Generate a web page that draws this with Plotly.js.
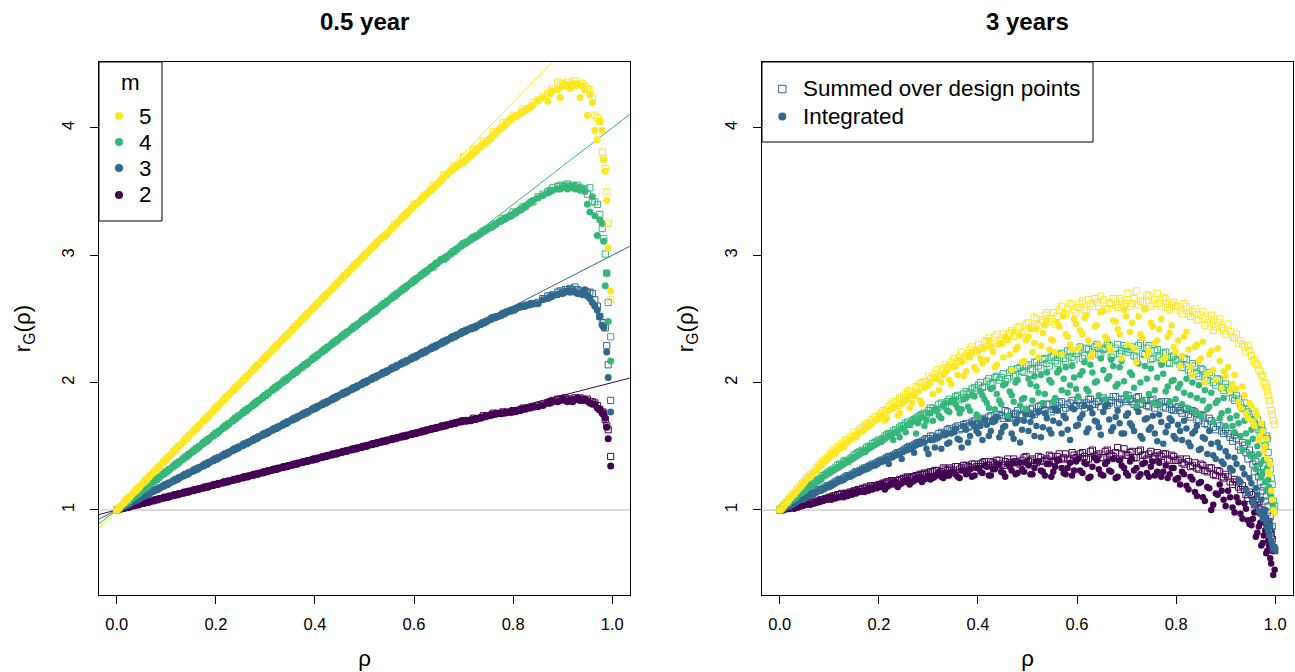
<!DOCTYPE html>
<html><head><meta charset="utf-8">
<script src="https://cdn.plot.ly/plotly-3.0.1.min.js"></script>
<style>html,body{margin:0;padding:0;background:#fff}#chart{width:1295px;height:672px}</style>
</head><body><div id="chart"></div>
<script>
// ---------- labels and colours ----------
const panelTitles = ["0.5 year", "3 years"];
const xTickVals = [0, 0.2, 0.4, 0.6, 0.8, 1.0];
const xTickText = ["0.0", "0.2", "0.4", "0.6", "0.8", "1.0"];
const yTickVals = [1, 2, 3, 4];
const yTickText = ["1", "2", "3", "4"];
const mLabels = ["2", "3", "4", "5"];
const colours = ["#440154", "#31688E", "#35B779", "#FDE725"];
const legendLabels = ["Summed over design points", "Integrated"];

// ---------- reference lines ----------
const lineX = [-0.036, 1.036];
const ref2 = [0.964, 2.036];
const ref3 = [0.928, 3.072];
const ref4 = [0.892, 4.108];
const ref5 = [0.856, 5.144];
const unityY = [1, 1];

// ---------- left panel: 0.5 year ----------
const xL = [0,.01,.02,.03,.04,.05,.06,.07,.08,.09,.10,.11,.12,.13,.14,.15,.16,.17,.18,.19,.20,.21,.22,.23,.24,.25,.26,.27,.28,.29,.30,.31,.32,.33,.34,.35,.36,.37,.38,.39,.40,.41,.42,.43,.44,.45,.46,.47,.48,.49,.50,.51,.52,.53,.54,.55,.56,.57,.58,.59,.60,.61,.62,.63,.64,.65,.66,.67,.68,.69,.70,.71,.72,.73,.74,.75,.76,.77,.78,.79,.80,.81,.82,.83,.84,
 .85,.86,.87,.875,.88,.89,.895,.90,.905,.91,.915,.92,.925,.93,.935,.94,.945,.95,.955,.96,.965,.97,.975,.98,.983,.986,.989,.992,.997];
const L2 = [1.00,1.01,1.02,1.03,1.04,1.05,1.06,1.07,1.08,1.09,1.10,1.11,1.12,1.13,1.14,1.15,1.16,1.17,1.18,1.19,1.20,1.21,1.22,1.23,1.24,1.25,1.26,1.27,1.28,1.29,1.30,1.31,1.32,1.33,1.34,1.35,1.36,1.37,1.38,1.39,1.40,1.41,1.42,1.43,1.44,1.45,1.46,1.47,1.48,1.49,1.50,1.51,1.52,1.53,1.54,1.55,1.56,1.57,1.58,1.59,1.60,1.61,1.62,1.63,1.64,1.65,1.66,1.67,1.68,1.69,1.70,1.70,1.71,1.72,1.73,1.74,1.75,1.76,1.76,1.77,1.77,1.78,1.79,1.80,1.81,
 1.81,1.82,1.84,1.84,1.85,1.85,1.86,1.87,1.86,1.85,1.86,1.85,1.87,1.88,1.86,1.87,1.87,1.86,1.84,1.83,1.83,1.80,1.79,1.76,1.75,1.72,1.65,1.56,1.345];
const L3 = [1.00,1.02,1.04,1.06,1.08,1.10,1.12,1.14,1.16,1.18,1.20,1.22,1.24,1.26,1.28,1.30,1.32,1.34,1.36,1.38,1.40,1.42,1.44,1.46,1.48,1.50,1.52,1.54,1.56,1.58,1.60,1.62,1.64,1.66,1.68,1.70,1.72,1.74,1.76,1.78,1.80,1.82,1.84,1.86,1.88,1.90,1.92,1.94,1.96,1.98,2.00,2.02,2.04,2.06,2.08,2.10,2.12,2.14,2.16,2.18,2.20,2.22,2.24,2.26,2.28,2.30,2.32,2.34,2.36,2.38,2.40,2.42,2.43,2.45,2.47,2.49,2.51,2.52,2.54,2.56,2.57,2.59,2.60,2.61,2.62,
 2.62,2.65,2.66,2.67,2.68,2.69,2.70,2.70,2.71,2.72,2.71,2.72,2.71,2.70,2.70,2.69,2.73,2.68,2.66,2.63,2.60,2.57,2.52,2.45,2.43,null,2.24,2.04,1.77];
const L4 = [1.00,1.03,1.06,1.09,1.12,1.15,1.18,1.21,1.24,1.27,1.30,1.33,1.36,1.39,1.42,1.45,1.48,1.51,1.54,1.57,1.60,1.63,1.66,1.69,1.72,1.75,1.78,1.81,1.84,1.87,1.90,1.93,1.96,1.99,2.02,2.05,2.08,2.11,2.14,2.17,2.20,2.23,2.26,2.29,2.32,2.35,2.38,2.41,2.44,2.47,2.50,2.53,2.56,2.59,2.62,2.65,2.68,2.71,2.74,2.77,2.80,2.83,2.86,2.89,2.92,2.95,2.97,3.00,3.03,3.06,3.09,3.11,3.14,3.16,3.19,3.21,3.23,3.26,3.28,3.30,3.32,3.35,3.37,3.40,3.43,
 3.45,3.47,3.49,3.50,3.51,3.52,3.52,3.53,3.54,3.52,3.53,3.54,3.52,3.53,3.51,3.52,3.50,3.40,3.34,3.46,3.31,3.155,3.28,3.25,3.11,2.76,2.86,2.48,2.17];
const L5 = [1.00,1.04,1.08,1.12,1.16,1.20,1.24,1.28,1.32,1.36,1.40,1.44,1.48,1.52,1.56,1.60,1.64,1.68,1.72,1.76,1.80,1.84,1.88,1.92,1.96,2.00,2.04,2.08,2.12,2.16,2.20,2.24,2.28,2.32,2.36,2.40,2.44,2.48,2.52,2.56,2.60,2.64,2.68,2.72,2.76,2.80,2.84,2.88,2.92,2.96,3.00,3.04,3.08,3.12,3.15,3.19,3.23,3.27,3.31,3.35,3.39,3.42,3.46,3.50,3.53,3.57,3.61,3.65,3.68,3.71,3.73,3.77,3.80,3.84,3.87,3.90,3.94,3.98,4.01,4.05,4.08,4.10,4.13,4.15,4.18,
 4.21,4.24,4.21,4.27,4.29,4.30,4.24,4.33,4.33,4.34,4.31,4.34,4.33,4.34,4.24,4.33,4.30,4.10,4.26,4.20,3.98,3.91,4.05,3.98,3.75,3.66,3.43,3.06,2.72];

const xLb = [.005,.015,.025,.035,.045,.055,.065,.075,.085,.095,.105,.115,.125,.135,.145,.155,.165,.175,.185,.195,.205,.215,.225,.235,.245,.255,.265,.275,.285,.295,.305,.315,.325,.335,.345,.355,.365,.375,.385,.395,.405,.415,.425,.435,.445,.455,.465,.475,.485,.495,.505,.515,.525,.535,.545,.555,.565,.575,.585,.595,.605,.615,.625,.635,.645,.655,.665,.675,.685,.695,.705,.715,.725,.735,.745,.755,.765,.775,.785,.795,.805,.815,.825,.835];
const L2b = [1.005,1.015,1.025,1.035,1.045,1.055,1.065,1.075,1.085,1.095,1.105,1.115,1.125,1.135,1.145,1.155,1.165,1.175,1.185,1.195,1.205,1.215,1.225,1.235,1.245,1.255,1.265,1.275,1.285,1.295,1.305,1.315,1.325,1.335,1.345,1.355,1.365,1.375,1.385,1.395,1.405,1.415,1.425,1.435,1.445,1.455,1.465,1.475,1.485,1.495,1.505,1.515,1.525,1.535,1.545,1.555,1.565,1.575,1.585,1.595,1.605,1.615,1.625,1.635,1.645,1.655,1.665,1.675,1.685,1.695,1.70,1.705,1.715,1.725,1.735,1.745,1.755,1.76,1.765,1.77,1.775,1.785,1.795,1.805];
const L3b = [1.01,1.03,1.05,1.07,1.09,1.11,1.13,1.15,1.17,1.19,1.21,1.23,1.25,1.27,1.29,1.31,1.33,1.35,1.37,1.39,1.41,1.43,1.45,1.47,1.49,1.51,1.53,1.55,1.57,1.59,1.61,1.63,1.65,1.67,1.69,1.71,1.73,1.75,1.77,1.79,1.81,1.83,1.85,1.87,1.89,1.91,1.93,1.95,1.97,1.99,2.01,2.03,2.05,2.07,2.09,2.11,2.13,2.15,2.17,2.19,2.21,2.23,2.25,2.27,2.29,2.31,2.33,2.35,2.37,2.39,2.41,2.425,2.44,2.46,2.48,2.50,2.515,2.53,2.55,2.565,2.58,2.595,2.605,2.615];
const L4b = [1.015,1.045,1.075,1.105,1.135,1.165,1.195,1.225,1.255,1.285,1.315,1.345,1.375,1.405,1.435,1.465,1.495,1.525,1.555,1.585,1.615,1.645,1.675,1.705,1.735,1.765,1.795,1.825,1.855,1.885,1.915,1.945,1.975,2.005,2.035,2.065,2.095,2.125,2.155,2.185,2.215,2.245,2.275,2.305,2.335,2.365,2.395,2.425,2.455,2.485,2.515,2.545,2.575,2.605,2.635,2.665,2.695,2.725,2.755,2.785,2.815,2.845,2.875,2.905,2.935,2.965,2.985,3.015,3.045,3.075,3.10,3.125,3.15,3.175,3.20,3.22,3.245,3.27,3.29,3.31,3.335,3.36,3.385,3.415];
const L5b = [1.02,1.06,1.10,1.14,1.18,1.22,1.26,1.30,1.34,1.38,1.42,1.46,1.50,1.54,1.58,1.62,1.66,1.70,1.74,1.78,1.82,1.86,1.90,1.94,1.98,2.02,2.06,2.10,2.14,2.18,2.22,2.26,2.30,2.34,2.38,2.42,2.46,2.50,2.54,2.58,2.62,2.66,2.70,2.74,2.78,2.82,2.86,2.90,2.94,2.98,3.02,3.06,3.10,3.135,3.17,3.21,3.25,3.29,3.33,3.37,3.405,3.44,3.48,3.515,3.55,3.59,3.63,3.665,3.695,3.72,3.75,3.785,3.82,3.855,3.885,3.92,3.96,3.995,4.03,4.065,4.09,4.115,4.14,4.165];

const xLs = [0,.02,.04,.06,.08,.10,.12,.14,.16,.18,.20,.22,.24,.26,.28,.30,.32,.34,.36,.38,.40,.42,.44,.46,.48,.50,.52,.54,.56,.58,.60,.62,.64,.66,.68,.70,.72,.74,.76,.78,.80,.82,.84,
 .85,.86,.87,.875,.88,.89,.895,.90,.905,.91,.915,.92,.925,.93,.935,.94,.945,.95,.955,.96,.965,.97,.975,.98,.983,.986,.989,.992,.997];
const Ls2 = [1.00,1.02,1.04,1.06,1.08,1.10,1.12,1.14,1.16,1.18,1.20,1.22,1.24,1.26,1.28,1.30,1.32,1.34,1.36,1.38,1.40,1.42,1.44,1.46,1.48,1.50,1.52,1.54,1.56,1.58,1.60,1.62,1.64,1.66,1.68,1.70,1.72,1.74,1.76,1.77,1.78,1.80,1.81,
 1.82,1.83,1.84,1.85,1.86,1.87,1.87,1.87,1.88,1.87,1.87,1.86,1.88,1.87,1.88,1.87,1.86,1.87,1.85,1.85,1.84,1.82,1.79,1.77,1.76,1.71,1.66,1.63,1.42];
const Ls3 = [1.00,1.04,1.08,1.12,1.16,1.20,1.24,1.28,1.32,1.36,1.40,1.44,1.48,1.52,1.56,1.60,1.64,1.68,1.72,1.76,1.80,1.84,1.88,1.92,1.96,2.00,2.04,2.08,2.12,2.16,2.20,2.24,2.28,2.32,2.36,2.40,2.43,2.47,2.51,2.54,2.57,2.60,2.62,
 2.63,2.66,2.68,2.68,2.69,2.71,2.72,2.71,2.73,2.73,2.74,2.73,2.75,2.73,2.72,2.71,2.72,2.71,2.71,2.70,2.65,2.60,2.52,2.47,2.47,2.43,2.29,2.14,1.86];
const Ls4 = [1.00,1.06,1.12,1.18,1.24,1.30,1.36,1.42,1.48,1.54,1.60,1.66,1.72,1.78,1.84,1.90,1.96,2.02,2.08,2.14,2.20,2.26,2.32,2.38,2.44,2.50,2.56,2.62,2.68,2.74,2.80,2.86,2.91,2.97,3.03,3.09,3.14,3.19,3.24,3.29,3.34,3.38,3.42,
 3.46,3.48,3.50,3.51,3.53,3.54,3.55,3.54,3.55,3.56,3.54,3.55,3.54,3.55,3.53,3.52,3.52,3.48,3.53,3.42,3.42,3.40,3.32,3.21,3.13,3.01,2.86,2.63,2.36];
const Ls5 = [1.00,1.08,1.16,1.24,1.32,1.40,1.48,1.56,1.64,1.72,1.80,1.88,1.96,2.04,2.12,2.20,2.28,2.36,2.44,2.52,2.60,2.68,2.76,2.84,2.92,3.00,3.08,3.15,3.24,3.31,3.40,3.47,3.55,3.63,3.70,3.77,3.83,3.90,3.97,4.04,4.10,4.15,4.20,
 4.22,4.25,4.27,4.29,4.31,4.36,4.33,4.35,4.34,4.36,4.34,4.35,4.37,4.34,4.35,4.35,4.33,4.31,4.30,4.24,4.10,4.08,4.05,3.81,3.76,3.68,3.50,3.25,2.65];

// ---------- right panel: 3 years ----------
const xR = [0,.008,.017,.025,.033,.042,.05,.058,.066,.075,.083,.092,
 .1,.108,.117,.125,.133,.142,.15,.158,.167,.175,.183,.192,
 .2,.208,.216,.225,.234,.242,.25,.258,.267,.275,.283,.292,
 .3,.309,.317,.326,.334,.342,.351,.359,.367,.376,.384,.393,
 .401,.409,.418,.426,.434,.443,.451,.46,.468,.476,.485,.493,
 .502,.51,.518,.527,.535,.544,.552,.56,.569,.577,.586,.594,
 .602,.611,.619,.627,.636,.644,.653,.661,.669,.678,.686,.695,
 .703,.711,.72,.728,.737,.745,.753,.762,.77,.779,.787,.795,
 .804,.812,.821,.829,.838,.846,.854,.863,.871,.88,.888,.896,
 .905,.914,.922,.93,.938,.945,.952,.958,.964,.97,.975,.98,.984,.988,.992,.996];
const S5 = [1.00,1.04,1.08,1.12,1.15,1.19,1.23,1.26,1.29,1.33,1.36,1.40,
 1.43,1.47,1.49,1.52,1.55,1.57,1.61,1.62,1.65,1.68,1.69,1.73,
 1.74,1.78,1.79,1.83,1.84,1.88,1.89,1.93,1.92,1.97,1.99,2.01,
 2.05,2.04,2.10,2.09,2.14,2.13,2.19,2.17,2.24,2.21,2.26,2.25,
 2.30,2.27,2.33,2.30,2.36,2.33,2.38,2.34,2.41,2.37,2.44,2.40,
 2.47,2.44,2.50,2.47,2.53,2.48,2.55,2.52,2.60,2.54,2.62,2.57,
 2.59,2.64,2.56,2.62,2.66,2.60,2.65,2.58,2.63,2.61,2.66,2.60,
 2.70,2.62,2.72,2.64,2.58,2.68,2.62,2.70,2.60,2.66,2.57,2.63,
 2.60,2.54,2.60,2.52,2.58,2.50,2.56,2.47,2.53,2.44,2.50,2.41,
 2.46,2.36,2.38,2.33,2.28,2.29,2.21,2.18,2.14,2.09,2.05,1.99,1.93,1.86,1.78,1.70];
const I5 = [1.00,1.03,1.07,1.11,1.14,1.18,1.22,1.25,1.28,1.31,1.35,1.38,
 1.41,1.45,1.47,1.50,1.52,1.55,1.58,1.60,1.62,1.65,1.67,1.70,
 1.72,1.75,1.72,1.79,1.81,1.76,1.85,1.88,1.84,1.92,1.86,1.96,
 1.99,1.91,2.03,2.00,2.08,2.02,2.12,2.06,2.16,2.09,2.20,2.12,
 2.25,2.15,2.18,2.28,2.12,2.30,2.20,2.34,2.10,2.26,2.37,2.17,
 2.36,2.24,2.42,2.29,2.45,2.26,2.33,2.47,2.22,2.38,2.30,2.50,
 2.27,2.38,2.53,2.20,2.44,2.30,2.56,2.34,2.25,2.48,2.38,2.57,
 2.30,2.47,2.16,2.38,2.58,2.25,2.44,2.33,2.50,2.20,2.39,2.28,
 2.33,2.21,2.40,2.12,2.28,2.17,2.32,2.07,2.25,2.02,2.17,2.09,
 2.12,1.99,1.95,1.80,1.90,1.72,1.82,1.66,1.74,1.58,1.62,1.50,1.40,1.28,1.15,1.00];
const S4 = [1.00,1.03,1.06,1.09,1.11,1.14,1.16,1.19,1.21,1.23,1.25,1.28,
 1.30,1.32,1.35,1.36,1.39,1.40,1.43,1.45,1.47,1.49,1.50,1.53,
 1.55,1.56,1.59,1.60,1.63,1.65,1.66,1.69,1.70,1.72,1.74,1.76,
 1.78,1.80,1.79,1.84,1.82,1.87,1.86,1.90,1.88,1.93,1.92,1.96,
 1.98,1.96,2.01,1.99,2.04,2.02,2.07,2.03,2.10,2.06,2.12,2.08,
 2.14,2.10,2.16,2.11,2.19,2.13,2.21,2.15,2.23,2.17,2.24,2.18,
 2.25,2.19,2.27,2.21,2.28,2.22,2.26,2.30,2.20,2.27,2.23,2.29,
 2.24,2.28,2.20,2.31,2.22,2.29,2.19,2.26,2.17,2.24,2.15,2.21,
 2.17,2.12,2.18,2.08,2.13,2.05,2.10,2.02,2.06,1.98,2.02,1.94,
 1.96,1.88,1.90,1.83,1.84,1.77,1.75,1.68,1.71,1.60,1.62,1.50,1.56,1.38,1.25,1.07];
const I4 = [1.00,1.02,1.05,1.08,1.10,1.13,1.15,1.18,1.20,1.22,1.24,1.27,
 1.29,1.31,1.33,1.35,1.37,1.39,1.41,1.43,1.45,1.47,1.49,1.51,
 1.53,1.55,1.57,1.59,1.61,1.57,1.64,1.67,1.69,1.60,1.72,1.66,
 1.76,1.70,1.79,1.72,1.84,1.77,1.86,1.80,1.79,1.88,1.78,1.89,
 1.73,1.90,1.84,1.95,1.79,1.86,1.98,1.74,1.90,2.00,1.82,1.88,
 2.03,1.86,1.97,2.06,1.91,2.02,1.85,2.08,1.94,2.12,1.98,2.04,
 1.89,2.09,1.95,2.14,2.00,1.90,2.10,2.03,2.18,1.97,2.12,2.01,
 1.88,2.06,1.82,2.00,2.13,1.91,1.84,2.04,2.14,1.93,1.85,2.02,
 1.96,1.83,2.03,1.90,1.77,1.98,1.86,1.79,1.92,1.84,1.72,1.88,
 1.78,1.66,1.74,1.58,1.70,1.53,1.63,1.42,1.50,1.36,1.30,1.22,1.33,1.18,1.10,1.02];
const S3 = [1.00,1.02,1.03,1.05,1.07,1.09,1.10,1.12,1.13,1.15,1.16,1.18,
 1.19,1.21,1.23,1.24,1.26,1.27,1.29,1.30,1.32,1.33,1.35,1.36,
 1.38,1.39,1.41,1.42,1.44,1.45,1.47,1.49,1.50,1.52,1.53,1.55,
 1.56,1.58,1.57,1.61,1.60,1.64,1.62,1.66,1.64,1.68,1.66,1.70,
 1.68,1.72,1.69,1.74,1.71,1.75,1.72,1.77,1.73,1.76,1.75,1.79,
 1.76,1.80,1.77,1.82,1.78,1.83,1.79,1.82,1.85,1.80,1.84,1.81,
 1.86,1.82,1.84,1.87,1.83,1.85,1.88,1.82,1.86,1.89,1.84,1.87,
 1.90,1.85,1.88,1.83,1.86,1.81,1.87,1.83,1.85,1.80,1.83,1.78,
 1.81,1.76,1.79,1.73,1.77,1.70,1.74,1.67,1.70,1.63,1.66,1.60,
 1.60,1.54,1.56,1.47,1.51,1.40,1.43,1.30,1.34,1.22,1.15,1.07,.98,.91,.83,.70];
const I3 = [1.00,1.01,1.03,1.04,1.06,1.08,1.09,1.11,1.12,1.14,1.15,1.17,
 1.18,1.20,1.22,1.23,1.25,1.26,1.28,1.29,1.31,1.32,1.34,1.35,
 1.37,1.38,1.40,1.41,1.43,1.44,1.46,1.47,1.49,1.51,1.52,1.53,
 1.44,1.55,1.57,1.48,1.59,1.53,1.61,1.56,1.49,1.63,1.58,1.66,
 1.60,1.55,1.67,1.62,1.70,1.57,1.65,1.72,1.60,1.68,1.53,1.70,
 1.62,1.74,1.66,1.57,1.76,1.63,1.70,1.78,1.60,1.72,1.55,1.79,
 1.67,1.75,1.61,1.80,1.70,1.65,1.77,1.83,1.62,1.73,1.68,1.60,
 1.76,1.66,1.80,1.58,1.71,1.63,1.74,1.54,1.69,1.61,1.72,1.58,
 1.67,1.55,1.64,1.50,1.62,1.47,1.57,1.44,1.52,1.40,1.49,1.36,
 1.42,1.31,1.36,1.22,1.28,1.13,1.21,1.04,1.12,.97,.93,1.00,.86,.80,.76,.70];
const S2 = [1.00,1.01,1.02,1.03,1.03,1.04,1.05,1.06,1.06,1.07,1.08,1.09,
 1.10,1.11,1.12,1.13,1.13,1.14,1.15,1.16,1.17,1.18,1.19,1.19,
 1.20,1.21,1.22,1.23,1.23,1.24,1.25,1.26,1.26,1.27,1.28,1.29,
 1.29,1.30,1.31,1.30,1.32,1.33,1.31,1.34,1.33,1.35,1.33,1.36,
 1.34,1.37,1.35,1.38,1.36,1.39,1.35,1.40,1.37,1.38,1.36,1.41,
 1.38,1.40,1.37,1.41,1.39,1.43,1.38,1.42,1.40,1.44,1.39,1.43,
 1.41,1.45,1.40,1.46,1.42,1.44,1.41,1.47,1.43,1.45,1.40,1.48,
 1.43,1.46,1.41,1.47,1.43,1.44,1.40,1.45,1.42,1.44,1.39,1.42,
 1.39,1.37,1.40,1.34,1.37,1.32,1.35,1.30,1.33,1.27,1.30,1.25,
 1.26,1.20,1.22,1.16,1.16,1.09,1.12,1.04,1.06,.98,.97,.93,.89,.85,.80,.69];
const I2 = [1.00,1.00,1.01,1.02,1.02,1.03,1.04,1.05,1.05,1.06,1.07,1.08,
 1.09,1.10,1.10,1.11,1.12,1.13,1.14,1.15,1.15,1.16,1.17,1.18,
 1.19,1.20,1.18,1.21,1.22,1.20,1.23,1.24,1.22,1.25,1.26,1.24,
 1.27,1.25,1.28,1.26,1.29,1.27,1.30,1.26,1.31,1.28,1.32,1.27,
 1.33,1.29,1.34,1.27,1.32,1.35,1.29,1.36,1.31,1.28,1.37,1.30,
 1.35,1.28,1.38,1.31,1.27,1.36,1.30,1.39,1.33,1.28,1.37,1.31,
 1.40,1.29,1.36,1.26,1.41,1.32,1.27,1.38,1.30,1.25,1.39,1.33,
 1.27,1.40,1.33,1.28,1.37,1.26,1.38,1.30,1.26,1.35,1.28,1.33,
 1.25,1.30,1.19,1.26,1.14,1.21,1.10,1.18,1.00,1.13,1.20,1.08,
 1.15,1.02,1.10,.97,1.05,.92,.88,.98,.82,.90,.74,.84,.68,.72,.58,.49];

const xRb = [.004,.013,.021,.029,.037,.046,.054,.062,.07,.079,.087,.096,
 .104,.112,.121,.129,.137,.146,.154,.162,.171,.179,.187,.196,
 .204,.212,.22,.229,.238,.246,.254,.262,.271,.279,.287,.296,
 .304,.313,.321,.33,.338,.346,.355,.363,.371,.38,.388,.397,
 .405,.413,.422,.43,.438,.447,.455,.464,.472,.48,.489,.497,
 .506,.514,.522,.531,.539,.548,.556,.564,.573,.581,.59,.598,
 .606,.615,.623,.631,.64,.648,.657,.665,.673,.682,.69,.699,
 .707,.715,.724,.732,.741,.749,.757,.766,.774,.783,.791,.799,
 .808,.816,.825,.833,.842,.85,.858,.867,.875,.884,.892,.9,
 .909,.918,.926,.934,.941,.948,.955,.961,.967,.972,.977,.982,.986,.99,.994,.999];
const S5b = [1.02,1.06,1.10,1.13,1.17,1.21,1.25,1.28,1.31,1.35,1.38,1.41,
 1.45,1.46,1.50,1.51,1.55,1.58,1.59,1.64,1.66,1.67,1.71,1.73,
 1.76,1.77,1.81,1.85,1.82,1.87,1.91,1.94,1.90,1.96,2.00,1.98,
 2.03,2.07,2.05,2.11,2.12,2.16,2.15,2.20,2.18,2.23,2.28,2.24,
 2.27,2.32,2.35,2.28,2.38,2.31,2.34,2.39,2.36,2.43,2.38,2.46,
 2.43,2.51,2.45,2.49,2.55,2.50,2.46,2.57,2.53,2.58,2.61,2.55,
 2.62,2.57,2.65,2.60,2.63,2.68,2.58,2.62,2.66,2.59,2.64,2.62,
 2.60,2.66,2.61,2.63,2.69,2.60,2.65,2.62,2.67,2.59,2.61,2.60,
 2.57,2.62,2.54,2.56,2.49,2.53,2.45,2.50,2.41,2.47,2.43,2.38,
 2.40,2.35,2.31,2.30,2.24,2.25,2.17,2.15,2.10,2.06,2.00,1.96,1.90,1.83,1.75,1.67];
const I5b = [1.01,1.05,1.09,1.12,1.16,1.20,1.24,1.26,1.30,1.33,1.37,1.40,
 1.43,1.44,1.48,1.49,1.53,1.56,1.57,1.61,1.63,1.66,1.68,1.71,
 1.73,1.70,1.78,1.80,1.74,1.83,1.86,1.80,1.90,1.93,1.83,1.97,
 2.00,2.04,1.94,2.06,2.10,1.99,2.13,2.18,2.05,2.21,2.24,2.10,
 2.19,2.27,2.33,2.24,2.14,2.31,2.36,2.22,2.40,2.28,2.16,2.33,
 2.42,2.31,2.20,2.39,2.49,2.34,2.24,2.44,2.52,2.36,2.26,2.46,
 2.41,2.51,2.33,2.23,2.45,2.55,2.36,2.28,2.49,2.42,2.19,2.52,
 2.40,2.27,2.52,2.35,2.21,2.47,2.31,2.42,2.18,2.36,2.45,2.24,
 2.13,2.36,2.26,2.06,2.30,2.19,2.00,2.22,2.10,2.27,1.96,2.05,
 1.94,2.06,1.85,1.97,1.76,1.84,1.69,1.78,1.55,1.68,1.46,1.56,1.30,1.36,1.08,.98];
const S4b = [1.01,1.05,1.08,1.10,1.13,1.15,1.18,1.20,1.22,1.24,1.27,1.29,
 1.31,1.33,1.36,1.38,1.38,1.41,1.44,1.46,1.46,1.50,1.52,1.54,
 1.54,1.58,1.60,1.62,1.61,1.66,1.68,1.67,1.71,1.73,1.75,1.75,
 1.80,1.78,1.83,1.81,1.85,1.85,1.89,1.87,1.91,1.91,1.95,1.94,
 2.00,1.97,2.03,2.00,2.05,2.04,2.01,2.08,2.05,2.11,2.09,2.13,
 2.11,2.16,2.13,2.18,2.15,2.20,2.17,2.22,2.19,2.25,2.20,2.23,
 2.28,2.21,2.26,2.24,2.30,2.23,2.27,2.29,2.22,2.30,2.25,2.27,
 2.26,2.21,2.29,2.23,2.27,2.18,2.25,2.20,2.23,2.16,2.20,2.18,
 2.14,2.19,2.10,2.15,2.07,2.11,2.04,2.08,2.00,2.03,1.96,1.99,
 1.92,1.86,1.87,1.80,1.79,1.73,1.71,1.66,1.63,1.67,1.55,1.58,1.45,1.32,1.20,1.03];
const I4b = [1.01,1.04,1.07,1.09,1.12,1.14,1.17,1.19,1.21,1.23,1.26,1.28,
 1.30,1.32,1.34,1.36,1.38,1.40,1.42,1.44,1.46,1.48,1.50,1.52,
 1.54,1.56,1.58,1.55,1.62,1.64,1.61,1.67,1.70,1.68,1.73,1.70,
 1.76,1.79,1.74,1.82,1.78,1.85,1.83,1.76,1.87,1.81,1.90,1.75,
 1.93,1.87,1.80,1.96,1.91,1.83,1.99,1.93,1.85,2.02,1.87,1.79,
 1.99,2.05,1.92,1.84,2.08,2.00,1.88,2.10,2.03,1.92,2.13,1.95,
 2.06,2.16,1.93,2.08,2.01,2.19,1.87,2.05,2.13,1.99,2.17,1.91,
 2.08,1.96,2.15,1.86,2.03,2.11,1.94,1.83,2.07,1.97,2.01,1.87,
 1.99,1.92,1.80,2.00,1.88,1.74,1.94,1.81,1.69,1.86,1.76,1.66,
 1.72,1.61,1.68,1.47,1.60,1.44,1.56,1.32,1.44,1.26,1.39,1.16,1.24,1.12,1.05,.98];
const S3b = [1.01,1.03,1.04,1.06,1.08,1.09,1.11,1.13,1.14,1.16,1.17,1.19,
 1.20,1.22,1.24,1.25,1.27,1.28,1.30,1.31,1.33,1.34,1.36,1.37,
 1.39,1.40,1.42,1.43,1.45,1.46,1.48,1.50,1.51,1.53,1.54,1.56,
 1.58,1.56,1.60,1.59,1.63,1.62,1.65,1.63,1.67,1.65,1.69,1.67,
 1.71,1.70,1.73,1.70,1.75,1.74,1.78,1.72,1.75,1.78,1.74,1.77,
 1.79,1.75,1.81,1.79,1.83,1.77,1.80,1.84,1.78,1.83,1.86,1.82,
 1.84,1.80,1.87,1.83,1.85,1.81,1.86,1.84,1.89,1.83,1.87,1.85,
 1.87,1.83,1.89,1.84,1.82,1.86,1.80,1.84,1.81,1.85,1.79,1.80,
 1.78,1.80,1.75,1.78,1.71,1.75,1.68,1.72,1.65,1.68,1.62,1.63,
 1.57,1.59,1.50,1.53,1.45,1.47,1.36,1.38,1.26,1.29,1.18,1.11,1.03,.95,.87,.69];
const I3b = [1.00,1.02,1.04,1.05,1.07,1.08,1.10,1.12,1.13,1.15,1.16,1.18,
 1.19,1.21,1.23,1.24,1.26,1.27,1.29,1.30,1.32,1.33,1.35,1.36,
 1.38,1.39,1.36,1.42,1.44,1.40,1.47,1.48,1.45,1.52,1.53,1.48,
 1.55,1.49,1.57,1.59,1.52,1.60,1.64,1.55,1.66,1.53,1.68,1.62,
 1.66,1.71,1.58,1.69,1.73,1.61,1.66,1.74,1.56,1.70,1.63,1.75,
 1.69,1.58,1.77,1.65,1.72,1.60,1.79,1.68,1.74,1.63,1.80,1.66,
 1.72,1.82,1.64,1.76,1.69,1.59,1.81,1.71,1.65,1.78,1.60,1.74,
 1.68,1.62,1.77,1.56,1.72,1.65,1.60,1.75,1.52,1.66,1.70,1.56,
 1.62,1.70,1.53,1.60,1.66,1.48,1.56,1.62,1.43,1.53,1.38,1.46,
 1.33,1.41,1.24,1.33,1.16,1.25,1.07,1.17,.99,1.08,.95,.91,.83,.88,.73,.71];
const S2b = [1.00,1.01,1.02,1.02,1.03,1.04,1.05,1.06,1.06,1.07,1.08,1.09,
 1.10,1.11,1.12,1.12,1.13,1.14,1.15,1.16,1.17,1.17,1.18,1.19,
 1.20,1.21,1.22,1.22,1.23,1.24,1.25,1.25,1.26,1.27,1.28,1.28,
 1.30,1.31,1.29,1.33,1.31,1.32,1.34,1.32,1.35,1.34,1.36,1.34,
 1.36,1.38,1.35,1.37,1.39,1.36,1.38,1.37,1.40,1.37,1.39,1.42,
 1.39,1.37,1.42,1.38,1.40,1.42,1.39,1.44,1.41,1.40,1.45,1.41,
 1.44,1.42,1.40,1.47,1.43,1.41,1.46,1.44,1.42,1.49,1.44,1.43,
 1.45,1.41,1.46,1.43,1.40,1.46,1.42,1.43,1.44,1.40,1.43,1.39,
 1.40,1.36,1.38,1.35,1.33,1.36,1.31,1.33,1.28,1.31,1.26,1.28,
 1.22,1.24,1.18,1.19,1.12,1.14,1.07,1.08,1.02,1.00,.95,.90,.91,.83,.77,.68];
const I2b = [1.00,1.01,1.01,1.01,1.02,1.03,1.04,1.04,1.05,1.06,1.07,1.08,
 1.08,1.09,1.10,1.10,1.11,1.12,1.13,1.14,1.14,1.15,1.16,1.17,
 1.18,1.16,1.19,1.20,1.18,1.21,1.22,1.20,1.23,1.24,1.22,1.25,
 1.24,1.26,1.29,1.25,1.27,1.30,1.28,1.25,1.31,1.29,1.26,1.33,
 1.30,1.35,1.27,1.32,1.36,1.30,1.26,1.34,1.37,1.29,1.32,1.37,
 1.28,1.33,1.38,1.30,1.36,1.26,1.34,1.39,1.29,1.33,1.27,1.38,
 1.31,1.37,1.25,1.34,1.39,1.28,1.36,1.31,1.40,1.26,1.35,1.29,
 1.38,1.31,1.26,1.36,1.29,1.34,1.27,1.37,1.30,1.25,1.33,1.24,
 1.20,1.28,1.16,1.24,1.11,1.22,1.07,1.17,1.04,1.12,1.15,1.03,
 1.10,.98,1.06,.93,1.01,.89,.93,.79,.87,.72,.80,.66,.76,.62,.68,.53];

// ---------- drawing ----------
const W = 1295, H = 672;
const px = v => v / W, py = v => 1 - v / H;
const leftA = [L2, L3, L4, L5], leftB = [L2b, L3b, L4b, L5b];
const leftS = [Ls2, Ls3, Ls4, Ls5];
const xRall = xR.concat(xRb);
const rightI = [I2.concat(I2b), I3.concat(I3b), I4.concat(I4b), I5.concat(I5b)];
const rightS = [S2.concat(S2b), S3.concat(S3b), S4.concat(S4b), S5.concat(S5b)];
const refs = [ref2, ref3, ref4, ref5];
const squareMarker = c => ({symbol: "square-open", size: 6.2, color: c, line: {width: 1, color: c}});
const dotMarker = (c, s) => ({symbol: "circle", size: s, color: c, line: {width: 0}});

const traces = [];
traces.push({x: lineX, y: unityY, mode: "lines", line: {color: "#cccccc", width: 1.5}, showlegend: false, hoverinfo: "skip", xaxis: "x", yaxis: "y"});
traces.push({x: lineX, y: unityY, mode: "lines", line: {color: "#cccccc", width: 1.5}, showlegend: false, hoverinfo: "skip", xaxis: "x2", yaxis: "y2"});

mLabels.forEach((m, i) => {
  const c = colours[i];
  traces.push({x: lineX, y: refs[i], mode: "lines", line: {color: c, width: 1}, showlegend: false, xaxis: "x", yaxis: "y"});
  traces.push({x: xLs, y: leftS[i], mode: "markers", marker: squareMarker(c), showlegend: false, xaxis: "x", yaxis: "y"});
  traces.push({x: xLb, y: leftB[i], mode: "markers", marker: dotMarker(c, 8), name: "m = " + m, showlegend: false, xaxis: "x", yaxis: "y"});
  traces.push({x: xL, y: leftA[i], mode: "markers", marker: dotMarker(c, 7), name: "m = " + m, showlegend: false, xaxis: "x", yaxis: "y"});
});
mLabels.forEach((m, i) => {
  const c = colours[i];
  traces.push({x: xRall, y: rightS[i], mode: "markers", marker: squareMarker(c), name: legendLabels[0], showlegend: false, xaxis: "x2", yaxis: "y2"});
  traces.push({x: xRall, y: rightI[i], mode: "markers", marker: dotMarker(c, 6.5), name: legendLabels[1], showlegend: false, xaxis: "x2", yaxis: "y2"});
});

const fam = "Liberation Sans, Arial, sans-serif";
const tickFont = {family: fam, size: 16.5, color: "#000"};
const titleFont = {family: fam, size: 24, color: "#000"};
const axisTitleFont = {family: fam, size: 22.4, color: "#000"};
const legendFont = {family: fam, size: 22.4, color: "#000"};
const xAxis = (d) => ({domain: d, range: [-0.036, 1.036], tickmode: "array", tickvals: xTickVals, ticktext: xTickText,
  ticks: "outside", ticklen: 8, tickwidth: 1, tickcolor: "#000", showline: true, mirror: true, linecolor: "#000", linewidth: 1,
  ticklabelstandoff: 6, showgrid: false, zeroline: false, tickfont: tickFont, automargin: false, title: {text: "ρ", font: axisTitleFont, standoff: 18}});
const yAxis = (anchor) => ({domain: [py(595), py(62)], range: [0.332, 4.518], tickmode: "array", tickvals: yTickVals, ticktext: yTickText,
  tickangle: -90, ticks: "outside", ticklen: 8, tickwidth: 1, tickcolor: "#000", showline: true, mirror: true, linecolor: "#000", linewidth: 1,
  ticklabelstandoff: 9, showgrid: false, zeroline: false, tickfont: tickFont, automargin: false, anchor: anchor, title: {text: "r<sub>G</sub>(ρ)", font: axisTitleFont, standoff: 22}});

const note = (text, x, y, anchor, font) => ({text, xref: "paper", yref: "paper", x: px(x), y: py(y), showarrow: false, font, xanchor: anchor, yanchor: "middle", borderpad: 0});
const keyDot = (x, y, c) => ({type: "circle", xref: "paper", yref: "paper", x0: px(x - 4), x1: px(x + 4), y0: py(y + 4), y1: py(y - 4), fillcolor: c, line: {width: 0}, layer: "above"});
const keySquare = (x, y, c) => ({type: "rect", xref: "paper", yref: "paper", x0: px(x - 3.7), x1: px(x + 3.7), y0: py(y + 3.7), y1: py(y - 3.7), fillcolor: "rgba(0,0,0,0)", line: {width: 1, color: c}, layer: "above"});
const legendRows = [116, 142, 168, 195];
const legendDigits = mLabels.slice().reverse();
const legendColours = colours.slice().reverse();

const layout = {
  width: W, height: H, margin: {l: 0, r: 0, t: 0, b: 0}, paper_bgcolor: "#fff", plot_bgcolor: "#fff",
  xaxis: Object.assign(xAxis([px(99), px(630)]), {anchor: "y"}),
  yaxis: yAxis("x"),
  xaxis2: Object.assign(xAxis([px(762), px(1293)]), {anchor: "y2"}),
  yaxis2: yAxis("x2"),
  shapes: [
    {type: "rect", xref: "paper", yref: "paper", x0: px(99), x1: px(162), y0: py(221), y1: py(62), fillcolor: "#fff", line: {color: "#000", width: 1}, layer: "above"},
    {type: "rect", xref: "paper", yref: "paper", x0: px(762), x1: px(1093), y0: py(142), y1: py(62), fillcolor: "#fff", line: {color: "#000", width: 1}, layer: "above"},
    ...legendRows.map((y, i) => keyDot(119, y, legendColours[i])),
    keySquare(782.3, 89, colours[1]),
    keyDot(782.3, 116.5, colours[1])
  ],
  annotations: [
    note("<b>" + panelTitles[0] + "</b>", 364.5, 22, "center", titleFont),
    note("<b>" + panelTitles[1] + "</b>", 1027.5, 22, "center", titleFont),
    note("m", 130.5, 82, "center", legendFont),
    ...legendRows.map((y, i) => note(legendDigits[i], 137.5, y, "left", legendFont)),
    note(legendLabels[0], 801.5, 89, "left", legendFont),
    note(legendLabels[1], 801.5, 116, "left", legendFont)
  ],
  showlegend: false, hovermode: false
};
Plotly.newPlot("chart", traces, layout, {displayModeBar: false, responsive: false});
</script></body></html>
